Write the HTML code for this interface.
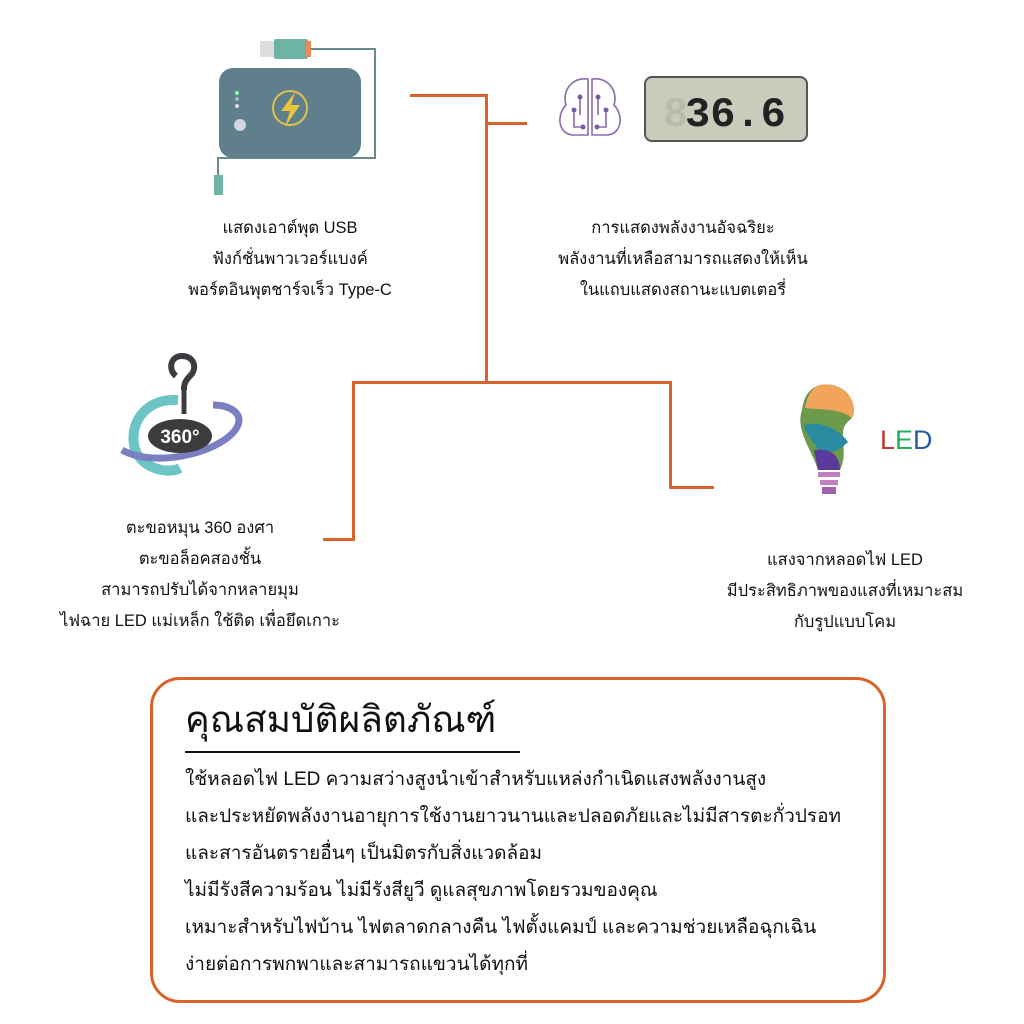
<!DOCTYPE html>
<html><head><meta charset="utf-8"><style>
body{margin:0;width:1024px;height:1024px;background:#fff;position:relative;overflow:hidden;font-family:"Liberation Sans","Noto Sans CJK SC",sans-serif;color:#111}
.t{position:absolute;text-align:center;font-size:16.5px;line-height:31px}
.ln{position:absolute;background:#d9622b}
.box{position:absolute;left:150px;top:677px;width:730px;height:320px;border:3px solid #d9622b;border-radius:30px}
.body{position:absolute;left:185px;top:761px;font-size:19px;line-height:37px}
</style></head><body>
<div class="ln" style="left:410px;top:94px;width:78px;height:3px"></div>
<div class="ln" style="left:485px;top:94px;width:3px;height:290px"></div>
<div class="ln" style="left:485px;top:122px;width:42px;height:3px"></div>
<div class="ln" style="left:352px;top:381px;width:320px;height:3px"></div>
<div class="ln" style="left:352px;top:381px;width:3px;height:160px"></div>
<div class="ln" style="left:323px;top:538px;width:32px;height:3px"></div>
<div class="ln" style="left:669px;top:381px;width:3px;height:108px"></div>
<div class="ln" style="left:669px;top:486px;width:45px;height:3px"></div>

<svg style="position:absolute;left:200px;top:35px" width="190" height="165">
<rect x="60" y="6" width="14" height="16" fill="#ddd"/>
<rect x="74" y="4" width="34" height="20" rx="2" fill="#6fb3a5"/>
<rect x="106" y="6" width="5" height="16" fill="#e98a5f"/>
<polyline points="111,14 175,14 175,123 18,123 18,140" fill="none" stroke="#6a8a8c" stroke-width="2"/>
<rect x="14" y="140" width="9" height="20" fill="#6fb3a5"/>
<rect x="19" y="33" width="142" height="90" rx="14" fill="#5f7f8c"/>
<circle cx="37" cy="58" r="2" fill="#8fa"/><circle cx="37" cy="64" r="2" fill="#9bb"/><circle cx="37" cy="71" r="2" fill="#dde"/>
<circle cx="40" cy="90" r="6" fill="#cfd8e0"/>
<circle cx="90" cy="73" r="17" fill="none" stroke="#e0c24a" stroke-width="2"/>
<polygon points="95,57 81,76 90,76 85,92 100,70 91,70" fill="#e8c53a"/>
</svg>

<svg style="position:absolute;left:550px;top:75px" width="260" height="70">
<g fill="none" stroke="#8a6bb0" stroke-width="1.6">
<path d="M38,4 C20,2 12,18 16,30 C6,40 8,60 24,60 L38,60 Z"/>
<path d="M42,4 C60,2 68,18 64,30 C74,40 72,60 56,60 L42,60 Z"/>
<path d="M24,35 V52 H33 M30,22 V40 M48,22 V40 M56,35 V52 H47"/>
</g>
<g fill="#7a5aa8"><circle cx="24" cy="35" r="2.5"/><circle cx="33" cy="52" r="2.5"/><circle cx="30" cy="22" r="2.5"/><circle cx="48" cy="22" r="2.5"/><circle cx="56" cy="35" r="2.5"/><circle cx="47" cy="52" r="2.5"/></g>
<rect x="95" y="2" width="162" height="64" rx="7" fill="#c8cdbb" stroke="#555" stroke-width="2"/>
<text x="113" y="51" font-family="Liberation Mono" font-size="42" font-weight="bold" fill="#b8bcae">8</text>
<text x="135" y="51" font-family="Liberation Mono" font-size="42" font-weight="bold" fill="#222">36.6</text>
</svg>

<svg style="position:absolute;left:118px;top:350px" width="130" height="130">
<path d="M58,26 C50,20 52,6 64,6 C76,6 80,18 72,26 C66,32 66,36 66,40" fill="none" stroke="#3a3c40" stroke-width="6"/>
<path d="M66,40 V64" stroke="#3a3c40" stroke-width="5"/>
<path d="M60,50 C30,48 12,70 16,95 C20,118 50,125 62,118" fill="none" stroke="#6cc4c4" stroke-width="10"/>
<path d="M4,100 C40,120 110,100 120,75 C125,62 110,55 95,55" fill="none" stroke="#7a7fc2" stroke-width="7"/>
<ellipse cx="62" cy="86" rx="32" ry="17" fill="#3c3c3f"/>
<text x="62" y="93" text-anchor="middle" font-size="19" font-weight="bold" fill="#fff">360°</text>
</svg>

<svg style="position:absolute;left:790px;top:380px" width="160" height="120">
<path d="M30,5 C60,0 70,30 60,40 C45,50 60,70 50,90 H28 C22,70 5,50 12,30 C14,15 20,8 30,5 Z" fill="#6a9a4a"/>
<path d="M30,5 C55,0 70,25 62,38 C50,28 30,30 15,28 C18,14 22,8 30,5Z" fill="#f2a35c"/>
<path d="M14,45 C30,40 50,50 58,62 C50,70 40,75 30,72 C22,60 16,55 14,45Z" fill="#2a8aa0"/>
<path d="M24,70 C40,68 50,75 50,90 H28Z" fill="#5a3a9a"/>
<rect x="28" y="92" width="22" height="5" fill="#c080c0"/>
<rect x="30" y="100" width="18" height="5" fill="#c080c0"/>
<rect x="32" y="107" width="14" height="7" fill="#a060b0"/>
<text x="90" y="69" font-size="27" fill="#c0392b">L</text>
<text x="105" y="69" font-size="27" fill="#27ae60">E</text>
<text x="123" y="69" font-size="27" fill="#2c5aa0">D</text>
</svg>

<div class="t" style="left:165px;top:213px;width:250px">แสดงเอาต์พุต USB<br>ฟังก์ชั่นพาวเวอร์แบงค์<br>พอร์ตอินพุตชาร์จเร็ว Type-C</div>
<div class="t" style="left:538px;top:213px;width:290px">การแสดงพลังงานอัจฉริยะ<br>พลังงานที่เหลือสามารถแสดงให้เห็น<br>ในแถบแสดงสถานะแบตเตอรี่</div>
<div class="t" style="left:40px;top:513px;width:320px">ตะขอหมุน 360 องศา<br>ตะขอล็อคสองชั้น<br>สามารถปรับได้จากหลายมุม<br>ไฟฉาย LED แม่เหล็ก ใช้ติด เพื่อยึดเกาะ</div>
<div class="t" style="left:700px;top:545px;width:290px">แสงจากหลอดไฟ LED<br>มีประสิทธิภาพของแสงที่เหมาะสม<br>กับรูปแบบโคม</div>

<div class="box"></div>
<div style="position:absolute;left:185px;top:694px;font-size:37px;line-height:52px">คุณสมบัติผลิตภัณฑ์</div>
<div style="position:absolute;left:185px;top:751px;width:335px;height:2px;background:#111"></div>
<div class="body">ใช้หลอดไฟ LED ความสว่างสูงนำเข้าสำหรับแหล่งกำเนิดแสงพลังงานสูง<br>และประหยัดพลังงานอายุการใช้งานยาวนานและปลอดภัยและไม่มีสารตะกั่วปรอท<br>และสารอันตรายอื่นๆ เป็นมิตรกับสิ่งแวดล้อม<br>ไม่มีรังสีความร้อน ไม่มีรังสียูวี ดูแลสุขภาพโดยรวมของคุณ<br>เหมาะสำหรับไฟบ้าน ไฟตลาดกลางคืน ไฟตั้งแคมป์ และความช่วยเหลือฉุกเฉิน<br>ง่ายต่อการพกพาและสามารถแขวนได้ทุกที่</div>
</body></html>
